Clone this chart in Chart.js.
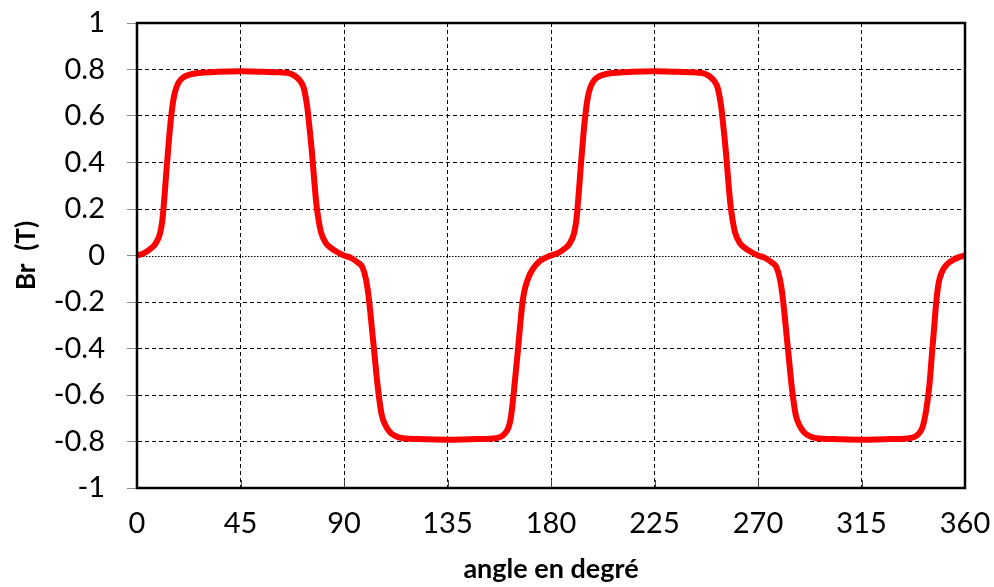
<!DOCTYPE html>
<html>
<head>
<meta charset="utf-8">
<script src="https://cdn.jsdelivr.net/npm/chart.js@4.4.1/dist/chart.umd.min.js"></script>
<style>
  html, body { margin: 0; padding: 0; background: #ffffff; }
  #wrap { width: 994px; height: 587px; position: relative; }
</style>
</head>
<body>
<div id="wrap"><canvas id="c" width="994" height="587"></canvas></div>
<script>
// Angle (degrees) and radial flux density Br (T)
const angles = [
  0, 3, 6, 8, 10, 11, 12, 13, 14, 15, 16, 17, 18.5, 20, 23, 27, 35, 45, 55, 62, 66, 69, 71, 72.5,
  74, 75, 76, 77, 78, 79, 80, 82, 84, 87, 90, 93, 96, 98, 99.5, 100.5, 101.5, 102.5, 103.5, 104.5,
  105.5, 106.5, 108, 110, 112, 115, 125, 135, 145, 155, 158, 160, 161.5, 162.5, 163.5, 164.5, 165.5,
  166.5, 167.5, 168.5, 170, 172, 175, 178,
  180, 183, 186, 188, 190, 191, 192, 193, 194, 195, 196, 197, 198.5, 200, 203, 207, 215, 225, 235,
  242, 246, 249, 251, 252.5, 254, 255, 256, 257, 258, 259, 260, 262, 264, 267, 270, 273, 276, 278,
  279.5, 280.5, 281.5, 282.5, 283.5, 284.5, 285.5, 286.5, 288, 290, 292, 295, 305, 315, 325, 335,
  338, 340, 341.5, 342.5, 343.5, 344.5, 345.5, 346.5, 347.5, 348.5, 350, 352, 355, 358, 360
];
const brValues = [
  0, 0.01, 0.03, 0.05, 0.095, 0.15, 0.26, 0.39, 0.51, 0.61, 0.68, 0.72, 0.75, 0.765, 0.778, 0.785,
  0.79, 0.792, 0.79, 0.788, 0.784, 0.77, 0.75, 0.72, 0.64, 0.55, 0.45, 0.33, 0.22, 0.15, 0.1, 0.055,
  0.035, 0.015, 0, -0.01, -0.03, -0.05, -0.1, -0.16, -0.25, -0.35, -0.45, -0.55, -0.63, -0.69, -0.73,
  -0.76, -0.775, -0.785, -0.79, -0.792, -0.79, -0.787, -0.78, -0.765, -0.74, -0.7, -0.62, -0.52,
  -0.42, -0.31, -0.21, -0.15, -0.1, -0.06, -0.025, -0.008,
  0, 0.01, 0.03, 0.05, 0.095, 0.15, 0.26, 0.39, 0.51, 0.61, 0.68, 0.72, 0.75, 0.765, 0.778, 0.785,
  0.79, 0.792, 0.79, 0.788, 0.784, 0.77, 0.75, 0.72, 0.64, 0.55, 0.45, 0.33, 0.22, 0.15, 0.1, 0.055,
  0.035, 0.015, 0, -0.01, -0.03, -0.05, -0.1, -0.16, -0.25, -0.35, -0.45, -0.55, -0.63, -0.69, -0.73,
  -0.76, -0.775, -0.785, -0.79, -0.792, -0.79, -0.787, -0.78, -0.765, -0.74, -0.7, -0.64, -0.56,
  -0.44, -0.32, -0.2, -0.12, -0.07, -0.04, -0.018, -0.005, 0
];
const xTicks = [0, 45, 90, 135, 180, 225, 270, 315, 360];
const yTicks = [-1, -0.8, -0.6, -0.4, -0.2, 0, 0.2, 0.4, 0.6, 0.8, 1];
const xTitle = 'angle en degré';
const yTitle = 'Br  (T)';

const points = angles.map((a, i) => ({ x: a, y: brValues[i] }));

const framePlugin = {
  id: 'frame',
  beforeDatasetsDraw(chart) {
    const { ctx, chartArea: a, scales } = chart;
    ctx.save();
    const y0 = Math.round(scales.y.getPixelForValue(0)) + 0.5;
    ctx.strokeStyle = '#000';
    ctx.lineWidth = 1;
    ctx.setLineDash([1.5, 1.5]);
    ctx.beginPath();
    ctx.moveTo(a.left, y0);
    ctx.lineTo(a.right, y0);
    ctx.stroke();
    ctx.restore();
  },
  afterDatasetsDraw(chart) {
    const { ctx, chartArea: a, scales } = chart;
    ctx.save();
    ctx.setLineDash([]);
    ctx.strokeStyle = '#444';
    ctx.lineWidth = 1;
    xTicks.forEach(v => {
      const px = Math.round(scales.x.getPixelForValue(v)) + 0.5;
      ctx.beginPath();
      ctx.moveTo(px, a.bottom);
      ctx.lineTo(px, a.bottom - 8);
      ctx.stroke();
    });
    ctx.strokeStyle = '#000';
    ctx.lineWidth = 2.5;
    ctx.strokeRect(a.left, a.top, a.right - a.left, a.bottom - a.top);
    ctx.restore();
  }
};

new Chart(document.getElementById('c'), {
  type: 'line',
  data: {
    datasets: [{
      data: points,
      borderColor: '#ff0000',
      borderWidth: 6,
      pointRadius: 0,
      fill: false,
      cubicInterpolationMode: 'monotone',
      borderCapStyle: 'round',
      borderJoinStyle: 'round'
    }]
  },
  options: {
    responsive: false,
    animation: false,
    devicePixelRatio: 1,
    layout: { padding: { top: 23, right: 29, left: 0, bottom: 0 } },
    plugins: { legend: { display: false }, tooltip: { enabled: false } },
    scales: {
      x: {
        type: 'linear',
        min: 0, max: 360,
        afterBuildTicks: s => { s.ticks = xTicks.map(v => ({ value: v })); },
        afterFit: s => { s.height = 99; s.paddingLeft = 0; s.paddingRight = 0; },
        ticks: {
          font: { family: 'Lato', size: 29 },
          color: '#000',
          padding: 18,
          maxRotation: 0,
          autoSkip: false,
          callback: v => String(v)
        },
        grid: {
          color: '#000',
          lineWidth: 1,
          drawTicks: false
        },
        border: { display: true, color: '#000', width: 2, dash: [4, 3] },
        title: {
          display: true,
          text: xTitle,
          font: { family: 'Lato', size: 27, weight: 'bold' },
          color: '#000',
          padding: { top: 0, bottom: 2 }
        }
      },
      y: {
        type: 'linear',
        min: -1, max: 1,
        afterBuildTicks: s => { s.ticks = yTicks.map(v => ({ value: v })); },
        afterFit: s => { s.width = 137; s.paddingTop = 0; s.paddingBottom = 0; },
        ticks: {
          font: { family: 'Lato', size: 29 },
          color: '#000',
          padding: 22,
          autoSkip: false,
          callback: v => String(Number(v.toFixed(1)))
        },
        grid: {
          color: ctx => (ctx.tick && ctx.tick.value === 0 ? 'rgba(0,0,0,0)' : '#000'),
          lineWidth: 1,
          drawTicks: true,
          tickLength: 10,
          tickColor: '#8c8c8c',
          tickBorderDash: []
        },
        border: { display: true, color: '#000', width: 2, dash: [4, 3] },
        title: {
          display: true,
          text: yTitle,
          font: { family: 'Lato', size: 26, weight: 'bold' },
          color: '#000',
          padding: { top: 11, bottom: 0 }
        }
      }
    }
  },
  plugins: [framePlugin]
});
</script>
</body>
</html>
